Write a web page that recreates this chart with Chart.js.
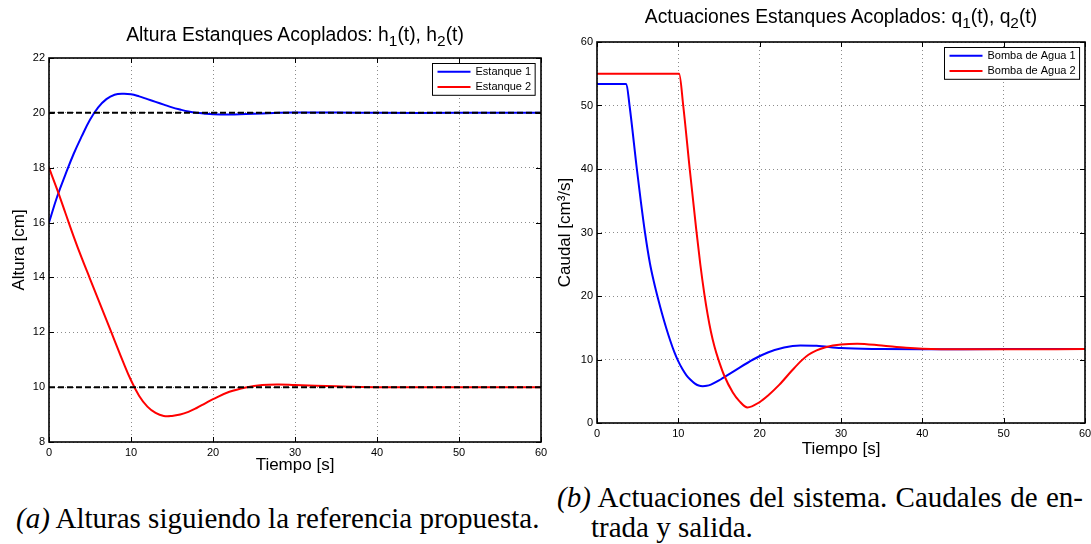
<!DOCTYPE html>
<html>
<head>
<meta charset="utf-8">
<script src="https://cdn.jsdelivr.net/npm/chart.js@4.4.1/dist/chart.umd.min.js"></script>
<style>
  html, body { margin: 0; padding: 0; background: #fff; }
  body { width: 1091px; height: 544px; position: relative; overflow: hidden; }
  canvas { position: absolute; top: 0; }
  #alturas { left: 0; }
  #caudales { left: 545px; }
  .titulo {
    position: absolute; font-family: "Liberation Sans", Arial, sans-serif;
    font-size: 19.3px; line-height: 22px; color: #000; text-align: center; white-space: nowrap;
  }
  .titulo sub { font-size: 0.8em; vertical-align: -0.35em; line-height: 0; }
  .pie {
    position: absolute; font-family: "Liberation Serif", "Times New Roman", serif;
    font-size: 29px; line-height: 30px; color: #000; white-space: nowrap;
  }
  .pie i { font-style: italic; }
</style>
</head>
<body>
<canvas id="alturas" width="548" height="480"></canvas>
<canvas id="caudales" width="546" height="462"></canvas>

<div class="titulo" style="left:95px; width:400px; top:24px;">Altura Estanques Acoplados: h<sub>1</sub>(t), h<sub>2</sub>(t)</div>
<div class="titulo" style="left:621px; width:440px; top:6px;">Actuaciones Estanques Acoplados: q<sub>1</sub>(t), q<sub>2</sub>(t)</div>

<div class="pie" style="left:16px; top:503px;"><i>(a)</i> Alturas siguiendo la referencia propuesta.</div>
<div class="pie" style="left:557px; top:482px; width:526px; text-align:justify; text-align-last:justify; white-space:normal;"><i>(b)</i> Actuaciones del sistema. Caudales de en-</div>
<div class="pie" style="left:591px; top:512px;">trada y salida.</div>

<script>
// alturas de los estanques [cm]
const tAltura = [0, 1, 2, 3, 4, 5, 6, 7, 8, 9, 10, 11, 12, 13, 14, 15, 16, 17, 18, 19, 20, 22, 24, 26, 28, 30, 35, 40, 50, 60];
const h1 = [16, 16.95, 17.75, 18.5, 19.15, 19.75, 20.2, 20.5, 20.66, 20.7, 20.68, 20.6, 20.5, 20.4, 20.3, 20.2, 20.12, 20.05, 20.0, 19.97, 19.95, 19.94, 19.96, 19.98, 20.0, 20.01, 20.01, 20.0, 20.0, 20.0];
const h2 = [18, 17.2, 16.35, 15.5, 14.7, 13.95, 13.2, 12.45, 11.7, 10.95, 10.25, 9.68, 9.29, 9.06, 8.95, 8.95, 9.0, 9.1, 9.24, 9.4, 9.56, 9.83, 9.99, 10.08, 10.1, 10.08, 10.03, 10.0, 10.0, 10.0];
const referencias = [20, 10];

// caudales de las bombas [cm3/s]
const tBomba1 = [0, 3.6, 4.0, 4.9, 5.4, 5.9, 6.5, 7.0, 7.5, 8, 8.5, 9, 9.5, 10, 10.5, 11, 11.5, 12, 12.5, 13, 13.5, 14, 15, 15.5, 17, 19.2, 21, 23, 25, 27, 30, 35, 40, 50, 60];
const q1 = [53.4, 53.4, 50, 40, 34.8, 30, 25.2, 22.2, 19.6, 17.2, 15.0, 13.0, 11.2, 9.7, 8.5, 7.5, 6.8, 6.25, 5.9, 5.8, 5.85, 6.05, 6.7, 7.1, 8.3, 10, 11.1, 11.9, 12.2, 12.15, 11.8, 11.65, 11.6, 11.65, 11.65];
const tBomba2 = [0, 10.1, 10.6, 11.4, 12.2, 12.7, 13.2, 13.6, 14.0, 14.45, 14.9, 15.6, 16.7, 17.5, 18.5, 20, 21, 22.4, 24, 25.2, 26, 27, 28, 29, 30, 32, 35, 38, 40, 45, 50, 60];
const q2 = [55, 55, 50, 40, 30.5, 25.0, 20.3, 17.1, 14.4, 12.0, 10.1, 7.6, 4.8, 3.45, 2.45, 3.3, 4.3, 6.0, 8.3, 9.9, 10.75, 11.45, 11.9, 12.2, 12.38, 12.5, 12.2, 11.85, 11.7, 11.6, 11.6, 11.65];

const tiempoTicks = { min: 0, max: 60, step: 10 };

const fuente = '"Liberation Sans", Arial, sans-serif';

function puntos(t, v) {
  return t.map((x, i) => ({ x: x, y: v[i] }));
}

// marco, marcas hacia dentro y leyenda con recuadro
const marcoLeyenda = {
  id: 'marcoLeyenda',
  afterDraw(chart) {
    const { ctx, chartArea: a, scales: { x, y } } = chart;
    ctx.save();
    ctx.strokeStyle = '#000';
    ctx.lineWidth = 1;
    ctx.beginPath();
    x.ticks.forEach(t => {
      const px = Math.round(x.getPixelForValue(t.value)) + 0.5;
      ctx.moveTo(px, a.bottom); ctx.lineTo(px, a.bottom - 5);
      ctx.moveTo(px, a.top); ctx.lineTo(px, a.top + 5);
    });
    y.ticks.forEach(t => {
      const py = Math.round(y.getPixelForValue(t.value)) + 0.5;
      ctx.moveTo(a.left, py); ctx.lineTo(a.left + 5, py);
      ctx.moveTo(a.right, py); ctx.lineTo(a.right - 5, py);
    });
    ctx.stroke();
    ctx.lineWidth = 1.6;
    ctx.strokeRect(a.left, a.top, a.right - a.left, a.bottom - a.top);

    const items = chart.data.datasets.filter(d => d.label);
    ctx.font = '11px ' + fuente;
    const textW = Math.max(...items.map(d => ctx.measureText(d.label).width));
    const rowH = 15.4, lineLen = 33;
    const w = 5 + lineLen + 5 + textW + 4;
    const h = items.length * rowH + 1;
    const bx = Math.round(a.right - 6 - w) + 0.5;
    const by = Math.round(a.top + 4.5) + 0.5;
    ctx.fillStyle = '#fff';
    ctx.fillRect(bx, by, w, h);
    ctx.lineWidth = 1;
    ctx.strokeRect(bx, by, w, h);
    items.forEach((d, i) => {
      const cy = by + 0.5 + rowH * (i + 0.5);
      ctx.strokeStyle = d.borderColor;
      ctx.lineWidth = 2;
      ctx.beginPath();
      ctx.moveTo(bx + 5, cy); ctx.lineTo(bx + 5 + lineLen, cy);
      ctx.stroke();
      ctx.fillStyle = '#000';
      ctx.textBaseline = 'middle';
      ctx.fillText(d.label, bx + 5 + lineLen + 5, cy);
    });
    ctx.restore();
  }
};

function opciones(cfg) {
  return {
    responsive: false,
    animation: false,
    devicePixelRatio: 1,
    layout: { padding: { left: 0, right: cfg.padRight, top: cfg.padTop, bottom: 0 } },
    plugins: { legend: { display: false }, tooltip: { enabled: false } },
    scales: {
      x: {
        type: 'linear', min: tiempoTicks.min, max: tiempoTicks.max,
        afterFit: s => { s.height = cfg.xHeight; s.paddingLeft = 0; s.paddingRight = 0; },
        ticks: { stepSize: tiempoTicks.step, color: '#000', padding: 4, font: { family: fuente, size: 11 }, maxRotation: 0 },
        grid: { color: '#8c8c8c', lineWidth: 1, drawTicks: false },
        border: { display: false, dash: [1, 3] },
        title: { display: true, text: 'Tiempo [s]', color: '#000', font: { family: fuente, size: 17, lineHeight: 1.2 }, padding: { top: 0, bottom: cfg.xTitlePad } }
      },
      y: {
        min: cfg.yMin, max: cfg.yMax,
        afterFit: s => { s.width = cfg.yWidth; s.paddingTop = 0; s.paddingBottom = 0; },
        ticks: { stepSize: cfg.yStep, color: '#000', padding: 4, font: { family: fuente, size: 11 } },
        grid: { color: '#8c8c8c', lineWidth: 1, drawTicks: false },
        border: { display: false, dash: [1, 3] },
        title: { display: true, text: cfg.yTitle, color: '#000', font: { family: fuente, size: 17, lineHeight: 1.2 }, padding: { top: cfg.yTitlePad, bottom: 0 } }
      }
    }
  };
}

// curvas suaves para las alturas, monótonas para los caudales (escalones)
const lineaSuave = { pointRadius: 0, borderWidth: 2, fill: false, tension: 0.4 };
const linea = { pointRadius: 0, borderWidth: 2, fill: false, cubicInterpolationMode: 'monotone' };

new Chart(document.getElementById('alturas'), {
  type: 'line',
  data: {
    datasets: [
      ...referencias.map(r => ({
        data: [{ x: tiempoTicks.min, y: r }, { x: tiempoTicks.max, y: r }],
        borderColor: '#000', borderWidth: 2, borderDash: [6, 3], pointRadius: 0, order: 0
      })),
      Object.assign({ label: 'Estanque 1', data: puntos(tAltura, h1), borderColor: '#0000ff', order: 2 }, lineaSuave),
      Object.assign({ label: 'Estanque 2', data: puntos(tAltura, h2), borderColor: '#ff0000', order: 1 }, lineaSuave)
    ]
  },
  options: opciones({
    padRight: 7, padTop: 58, xHeight: 38, xTitlePad: 4, yWidth: 49, yTitlePad: 9,
    yMin: 8, yMax: 22, yStep: 2, yTitle: 'Altura [cm]'
  }),
  plugins: [marcoLeyenda]
});

new Chart(document.getElementById('caudales'), {
  type: 'line',
  data: {
    datasets: [
      Object.assign({ label: 'Bomba de Agua 1', data: puntos(tBomba1, q1), borderColor: '#0000ff', order: 1 }, linea),
      Object.assign({ label: 'Bomba de Agua 2', data: puntos(tBomba2, q2), borderColor: '#ff0000', order: 0 }, linea)
    ]
  },
  options: opciones({
    padRight: 6, padTop: 42, xHeight: 39, xTitlePad: 2, yWidth: 52, yTitlePad: 10,
    yMin: 0, yMax: 60, yStep: 10, yTitle: 'Caudal [cm³/s]'
  }),
  plugins: [marcoLeyenda]
});
</script>
</body>
</html>
